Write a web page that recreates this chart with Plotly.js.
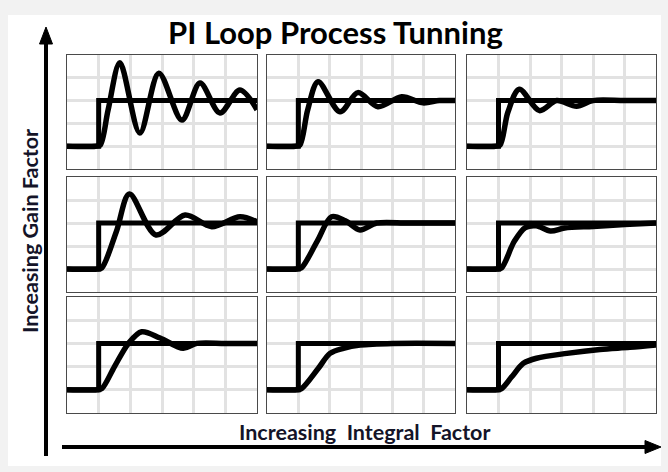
<!DOCTYPE html>
<html>
<head>
<meta charset="utf-8">
<script src="https://cdn.plot.ly/plotly-3.0.1.min.js"></script>
<style>html,body{margin:0;padding:0;background:#f2f2f2;}#chart{width:668px;height:472px;}</style>
</head>
<body>
<div id="chart"></div>
<script>
// ---- Data ----
var titleText = "PI Loop Process Tunning";
var yLabel = "Inceasing Gain Factor";
var xLabel = "Increasing&nbsp; Integral&nbsp; Factor";

// Setpoint step (same in every panel)
var spX = [0, 1, 6];
var spY = [1, 3, 3];

// Process variable responses; panels ordered row by row (top-left first)
var pv1x = [0, 0.9, 1.05, 1.3, 1.67, 2.3, 2.9, 3.63, 4.2, 4.83, 5.46, 6];
var pv1y = [1, 1, 1.05, 2.6, 4.66, 1.58, 4.2, 2.15, 3.77, 2.46, 3.46, 2.6];
var pv2x = [0, 0.9, 1.05, 1.3, 1.63, 2.33, 2.9, 3.54, 4.3, 4.98, 5.5, 6];
var pv2y = [1, 1, 1.05, 2.6, 3.83, 2.51, 3.35, 2.73, 3.17, 2.9, 3.0, 3.0];
var pv3x = [0, 0.9, 1.05, 1.3, 1.66, 2.3, 2.85, 3.48, 4.0, 5.0, 6];
var pv3y = [1, 1, 1.05, 2.5, 3.5, 2.56, 3.0, 2.75, 3.0, 3.0, 3.0];
var pv4x = [0, 0.95, 1.1, 1.56, 1.97, 2.81, 3.73, 4.57, 5.46, 6];
var pv4y = [1, 1, 1.05, 2.63, 4.26, 2.48, 3.35, 2.84, 3.27, 3.05];
var pv5x = [0, 0.95, 1.1, 1.6, 2.06, 2.5, 2.97, 3.5, 4.5, 6];
var pv5y = [1, 1, 1.05, 2.2, 3.27, 3.1, 2.7, 3.0, 3.0, 3.0];
var pv6x = [0, 0.95, 1.1, 1.5, 1.85, 2.2, 2.65, 3.1, 4.0, 5.0, 6];
var pv6y = [1, 1, 1.05, 2.2, 2.8, 2.88, 2.65, 2.78, 2.85, 2.93, 3.0];
var pv7x = [0, 0.95, 1.1, 1.5, 1.94, 2.36, 2.94, 3.67, 4.1, 5.0, 6];
var pv7y = [1, 1, 1.05, 2.0, 3.0, 3.5, 3.23, 2.79, 3.0, 3.0, 3.0];
var pv8x = [0, 0.95, 1.1, 1.64, 2.01, 2.44, 2.97, 4.02, 6];
var pv8y = [1, 1, 1.05, 1.93, 2.57, 2.79, 2.93, 3.0, 3.0];
var pv9x = [0, 0.95, 1.1, 1.42, 1.79, 2.21, 3.17, 4.22, 5.17, 6];
var pv9y = [1, 1, 1.05, 1.56, 2.14, 2.36, 2.57, 2.74, 2.83, 2.93];

var pvX = [pv1x, pv2x, pv3x, pv4x, pv5x, pv6x, pv7x, pv8x, pv9x];
var pvY = [pv1y, pv2y, pv3y, pv4y, pv5y, pv6y, pv7y, pv8y, pv9y];

// ---- Layout helpers ----
var W = 668, H = 472;
function px(x) { return x / W; }
function py(y) { return 1 - y / H; }
var colPx = [[67, 257], [267, 455], [467, 656]];
var rowPx = [[55, 169], [177, 292], [297, 413]];

var traces = [];
var layout = {
  width: W, height: H,
  margin: {l: 0, r: 0, t: 0, b: 0},
  paper_bgcolor: "#f2f2f2",
  plot_bgcolor: "#ffffff",
  showlegend: false,
  shapes: [],
  annotations: []
};

for (var i = 0; i < 9; i++) {
  var r = Math.floor(i / 3), c = i % 3;
  var sfx = i === 0 ? "" : String(i + 1);
  var xa = "x" + sfx, ya = "y" + sfx;
  traces.push({
    x: spX, y: spY, xaxis: xa, yaxis: ya, mode: "lines",
    line: {color: "#000", width: 5, shape: "hv"}, hoverinfo: "skip"
  });
  traces.push({
    x: pvX[i], y: pvY[i], xaxis: xa, yaxis: ya, mode: "lines",
    line: {color: "#000", width: 5.5, shape: "spline", smoothing: 0.9}, hoverinfo: "skip"
  });
  var common = {
    showticklabels: false, ticks: "", zeroline: false,
    showgrid: true, gridcolor: "#e2e2e2", gridwidth: 3,
    showline: true, mirror: true, linecolor: "#4a4a4a", linewidth: 1.2,
    dtick: 1, tick0: 0, fixedrange: true
  };
  layout["xaxis" + sfx] = Object.assign({}, common, {
    range: [0, 6], domain: [px(colPx[c][0]), px(colPx[c][1])], anchor: ya
  });
  layout["yaxis" + sfx] = Object.assign({}, common, {
    range: [0, 5], domain: [py(rowPx[r][1]), py(rowPx[r][0])], anchor: xa
  });
}

// White card
layout.shapes.push({type: "rect", xref: "paper", yref: "paper", layer: "below",
  x0: px(8), x1: px(661), y0: py(466), y1: py(15),
  fillcolor: "#ffffff", line: {width: 0}});
// Vertical arrow
layout.shapes.push({type: "line", xref: "paper", yref: "paper",
  x0: px(46), x1: px(46), y0: py(456), y1: py(40), line: {color: "#000", width: 4}});
layout.shapes.push({type: "path", xref: "paper", yref: "paper",
  path: "M " + px(46) + " " + py(27) + " L " + px(39.5) + " " + py(44) + " L " + px(52.5) + " " + py(44) + " Z",
  fillcolor: "#000", line: {color: "#000", width: 1}});
// Horizontal arrow
layout.shapes.push({type: "line", xref: "paper", yref: "paper",
  x0: px(62), x1: px(648), y0: py(447), y1: py(447), line: {color: "#000", width: 4}});
layout.shapes.push({type: "path", xref: "paper", yref: "paper",
  path: "M " + px(661) + " " + py(447) + " L " + px(645) + " " + py(440.5) + " L " + px(645) + " " + py(453.5) + " Z",
  fillcolor: "#000", line: {color: "#000", width: 1}});

// Texts
layout.annotations.push({text: "<b>" + titleText + "</b>", xref: "paper", yref: "paper",
  x: px(335), y: py(32), xanchor: "center", yanchor: "middle", showarrow: false,
  font: {family: "Lato, 'Open Sans', sans-serif", size: 31, color: "#000"}});
layout.annotations.push({text: "<b>" + yLabel + "</b>", xref: "paper", yref: "paper",
  x: px(30), y: py(231), xanchor: "center", yanchor: "middle", showarrow: false, textangle: -90,
  font: {family: "Lato, 'Open Sans', sans-serif", size: 21.5, color: "#141428"}});
layout.annotations.push({text: "<b>" + xLabel + "</b>", xref: "paper", yref: "paper",
  x: px(364), y: py(432), xanchor: "center", yanchor: "middle", showarrow: false,
  font: {family: "Lato, 'Open Sans', sans-serif", size: 21.5, color: "#141428"}});

Plotly.newPlot("chart", traces, layout, {staticPlot: true, displayModeBar: false});
</script>
</body>
</html>
